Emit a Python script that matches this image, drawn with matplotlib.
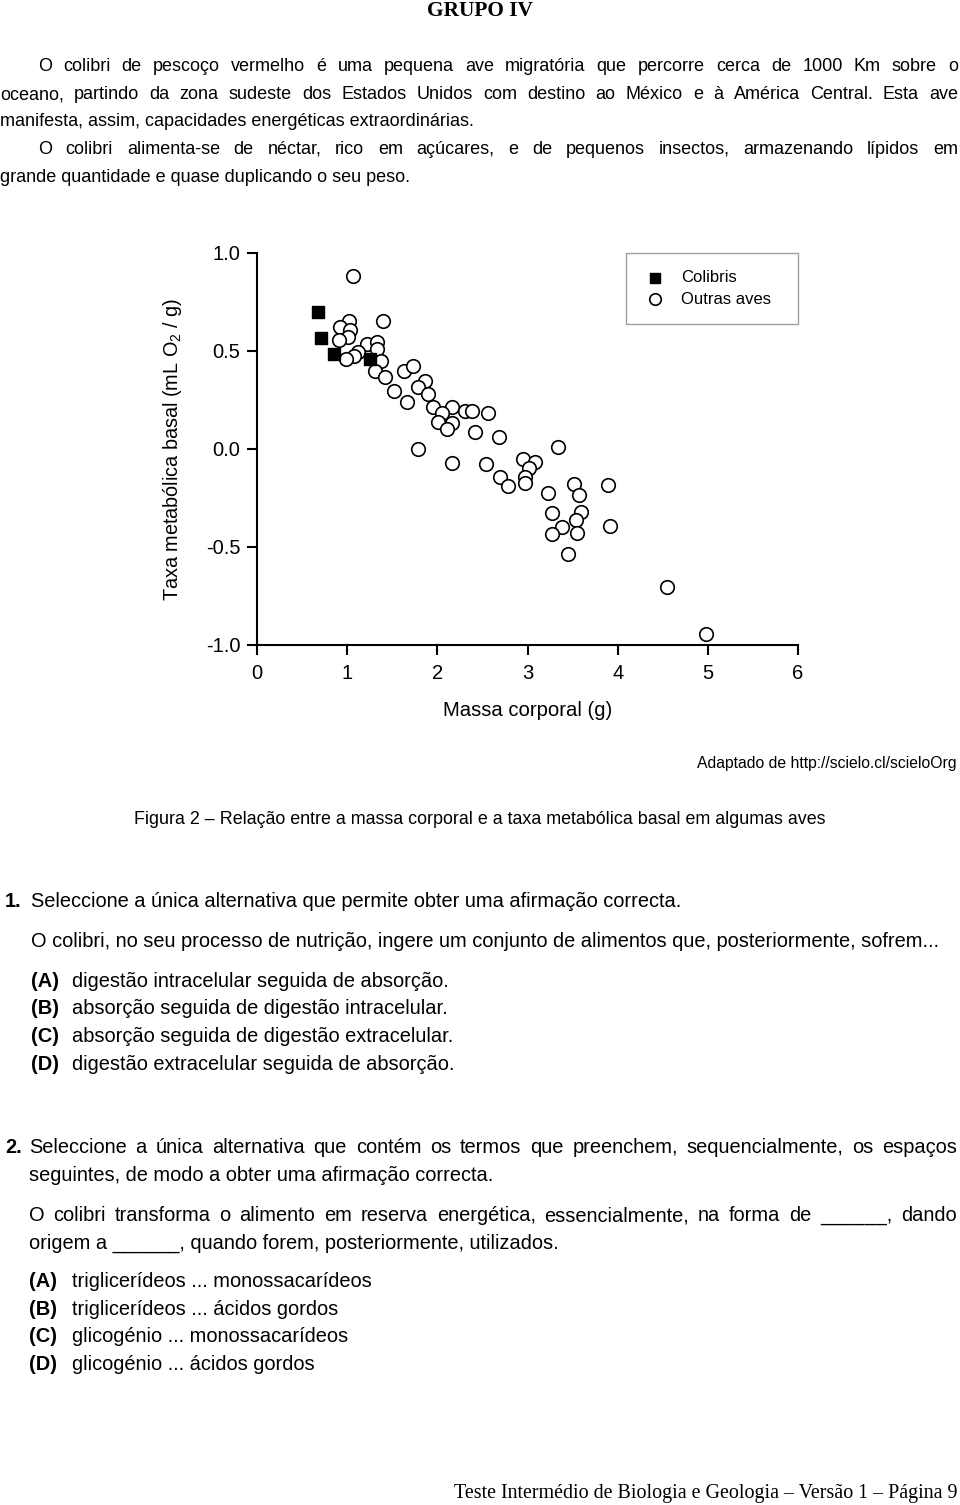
import matplotlib
matplotlib.use("Agg")
import matplotlib.pyplot as plt
from matplotlib.transforms import Affine2D

# data (massa corporal g, taxa metabolica basal)
colibri_x = [0.673, 0.706, 0.854, 1.253]
colibri_y = [0.697, 0.566, 0.486, 0.461]
outras_x = [1.061, 1.017, 0.924, 1.035, 1.005, 0.909, 1.401, 1.216, 1.330, 1.327,
            1.124, 1.079, 0.987, 1.371, 1.305, 1.423, 1.630, 1.733, 1.866, 1.788,
            1.892, 1.522, 1.663, 1.955, 2.162, 2.051, 2.310, 2.387, 2.565, 2.007,
            2.166, 2.106, 2.417, 2.683, 1.781, 2.166, 2.543, 2.949, 3.086, 3.016,
            2.694, 2.975, 2.975, 2.787, 3.337, 3.230, 3.518, 3.574, 3.888, 3.592,
            3.537, 3.267, 3.385, 3.274, 3.551, 3.910, 3.444, 4.549, 4.981]
outras_y = [0.883, 0.651, 0.621, 0.606, 0.573, 0.558, 0.651, 0.536, 0.548, 0.509,
            0.497, 0.474, 0.458, 0.449, 0.398, 0.367, 0.400, 0.425, 0.345, 0.318,
            0.282, 0.296, 0.240, 0.214, 0.214, 0.184, 0.192, 0.192, 0.184, 0.136,
            0.134, 0.100, 0.088, 0.061, 0.002, -0.073, -0.077, -0.051, -0.065, -0.097,
            -0.141, -0.145, -0.175, -0.189, 0.010, -0.226, -0.180, -0.235, -0.185, -0.320,
            -0.362, -0.328, -0.398, -0.432, -0.430, -0.394, -0.534, -0.702, -0.942]
xticks = [0, 1, 2, 3, 4, 5, 6]
yticks = [-1.0, -0.5, 0.0, 0.5, 1.0]
ytick_labels = ["-1.0", "-0.5", "0.0", "0.5", "1.0"]

W, H = 960, 1505
plt.rcParams["font.family"] = "Liberation Sans"
plt.rcParams["mathtext.fontset"] = "custom"
plt.rcParams["mathtext.rm"] = "Liberation Sans"
plt.rcParams["mathtext.it"] = "Liberation Sans:italic"
plt.rcParams["mathtext.bf"] = "Liberation Sans:bold"
plt.rcParams["mathtext.default"] = "regular"

fig = plt.figure(figsize=(W / 100, H / 100), dpi=100)
PX = Affine2D().scale(1 / W, -1 / H).translate(0, 1) + fig.transFigure
R = fig.canvas.get_renderer()
SERIF = "Liberation Serif"
BODY, QS = 13, 14.4


def t(x, y, s, size=QS, **kw):
    return fig.text(x, y, s, transform=PX, fontsize=size, va="baseline", **kw)


def justify(s, x0, x1, y, size=QS):
    # spread words so the line runs from x0 to x1 (justified paragraph)
    words = s.split()
    arts = [t(0, y, w, size) for w in words]
    ws = [a.get_window_extent(R).width for a in arts]
    gap = (x1 - x0 - sum(ws)) / (len(words) - 1)
    x = x0
    for a, w in zip(arts, ws):
        a.set_x(x)
        x += w + gap


# header and intro
t(480, 16, "GRUPO IV", 15.4, ha="center", weight="bold", family=SERIF)
justify("O colibri de pescoço vermelho é uma pequena ave migratória que percorre cerca de 1000 Km sobre o", 38, 958, 71, BODY)
justify("oceano, partindo da zona sudeste dos Estados Unidos com destino ao México e à América Central. Esta ave", 0, 958, 99, BODY)
t(0, 126, "manifesta, assim, capacidades energéticas extraordinárias.", BODY)
justify("O colibri alimenta-se de néctar, rico em açúcares, e de pequenos insectos, armazenando lípidos em", 38, 958, 154, BODY)
t(0, 182, "grande quantidade e quase duplicando o seu peso.", BODY)

# chart
ax = fig.add_axes([257 / W, 1 - 645 / H, 541 / W, 392 / H])
ci = ax.scatter(outras_x, outras_y, s=95, facecolors="white", edgecolors="black",
                linewidths=1.2, label="Outras aves  ", zorder=3, clip_on=False)
sq = ax.scatter(colibri_x, colibri_y, marker="s", s=72, c="black", label="Colibris", zorder=4)
ax.set_xlim(0, 6)
ax.set_ylim(-1, 1)
ax.set_xticks(xticks)
ax.set_yticks(yticks)
ax.set_yticklabels(ytick_labels)
for s in ("top", "right"):
    ax.spines[s].set_visible(False)
for s in ("left", "bottom"):
    ax.spines[s].set_linewidth(1.5)
ax.tick_params(direction="out", length=7, width=1.5, labelsize=14.5, pad=5)
ax.tick_params(axis="x", pad=7)
ax.set_xlabel("Massa corporal (g)", fontsize=14.6, labelpad=13)
ax.set_ylabel("Taxa metabólica basal (mL O$_2$ / g)", fontsize=14.3, labelpad=16)
leg = ax.legend(handles=[sq, ci], loc="upper right", bbox_to_anchor=(1.0, 1.0),
                fontsize=12, frameon=True, fancybox=False, edgecolor="#888888",
                borderpad=1.05, labelspacing=0.38, handlelength=1.4, handletextpad=0.85,
                borderaxespad=0, scatterpoints=1, markerscale=0.85)
leg.get_frame().set_linewidth(1.0)

t(957, 768, "Adaptado de http://scielo.cl/scieloOrg", 11.3, ha="right")
t(480, 824, "Figura 2 – Relação entre a massa corporal e a taxa metabólica basal em algumas aves", 12.9, ha="center")

# question 1
t(5, 907, "1.", weight="bold")
t(31, 907, "Seleccione a única alternativa que permite obter uma afirmação correcta.")
t(31, 947, "O colibri, no seu processo de nutrição, ingere um conjunto de alimentos que, posteriormente, sofrem...")
opts1 = ["digestão intracelular seguida de absorção.", "absorção seguida de digestão intracelular.",
         "absorção seguida de digestão extracelular.", "digestão extracelular seguida de absorção."]
for i, (k, o) in enumerate(zip("ABCD", opts1)):
    y = 987 + i * 27.5
    t(31, y, f"({k})", weight="bold")
    t(72, y, o)

# question 2
t(5, 1153, "2.", weight="bold")
justify("Seleccione a única alternativa que contém os termos que preenchem, sequencialmente, os espaços", 29, 957, 1153)
t(29, 1181, "seguintes, de modo a obter uma afirmação correcta.")
justify("O colibri transforma o alimento em reserva energética, essencialmente, na forma de ______, dando", 29, 957, 1221)
t(29, 1249, "origem a ______, quando forem, posteriormente, utilizados.")
opts2 = ["triglicerídeos ... monossacarídeos", "triglicerídeos ... ácidos gordos",
         "glicogénio ... monossacarídeos", "glicogénio ... ácidos gordos"]
for i, (k, o) in enumerate(zip("ABCD", opts2)):
    y = 1287 + i * 27.7
    t(29, y, f"({k})", weight="bold")
    t(72, y, o)

t(957, 1498, "Teste Intermédio de Biologia e Geologia – Versão 1 – Página 9", 14.4, ha="right", family=SERIF)

fig.savefig("out.png", dpi=100)
